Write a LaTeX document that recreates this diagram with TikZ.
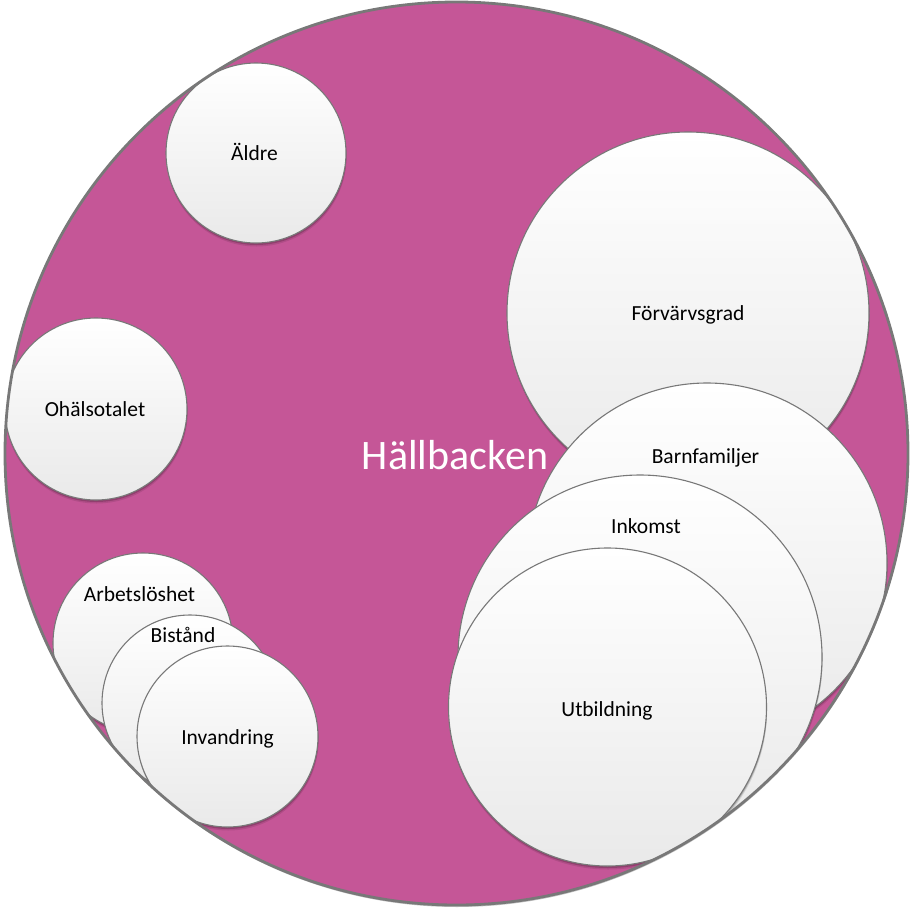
\documentclass[tikz,border=0pt]{standalone}
\usepackage{fontspec}
\setmainfont{Carlito}
\usetikzlibrary{shadows}
\definecolor{hpink}{RGB}{197,86,151}
\definecolor{bgray}{RGB}{120,120,120}
\begin{document}
\begin{tikzpicture}[x=1pt,y=-1pt,
  bubble/.style={circle, draw=bgray, line width=1.1pt, top color=white, bottom color=gray!17,
    inner sep=0pt, outer sep=0pt,
    drop shadow={shadow xshift=0.6pt, shadow yshift=-3.5pt, opacity=0.10, fill=black},
    drop shadow={shadow xshift=0.4pt, shadow yshift=-2pt, opacity=0.18, fill=black}},
  lbl/.style={font=\fontsize{21.5}{24}\selectfont, text=black, anchor=base, inner sep=0pt},
  title/.style={font=\fontsize{42}{48}\selectfont, text=white, anchor=base, inner sep=0pt}]
\useasboundingbox (0,0) rectangle (922,908);
% main circle
\node[circle, fill=hpink, minimum size=903pt, inner sep=0pt, outer sep=0pt,
  drop shadow={shadow xshift=0.5pt, shadow yshift=-2pt, opacity=0.25, fill=black}] (big) at (456.5,453.5) {};
\node[title] (hall) at (455,469) {Hällbacken};
\begin{scope}
  \clip (456.5,453.5) circle (451pt);
  \node[bubble, minimum size=180pt] (aldre) at (256,153) {};
  \node[bubble, minimum size=182pt] (ohals) at (96,409) {};
  \node[bubble, minimum size=362pt] (forv) at (688,313) {};
  \node[bubble, minimum size=360pt] (barn) at (707,563) {};
  \node[bubble, minimum size=364pt] (inko) at (640,657) {};
  \node[bubble, minimum size=318pt] (utbi) at (607.5,707) {};
  \node[bubble, minimum size=180pt] (arbe) at (143,643) {};
  \node[bubble, minimum size=176pt] (bist) at (190,703) {};
  \node[bubble, minimum size=181pt] (inva) at (227.5,736.5) {};
\end{scope}
% rim of main circle
\node[circle, draw=bgray, line width=2.8pt, minimum size=903pt, inner sep=0pt, outer sep=0pt] (rim) at (big) {};
% labels
\node[lbl] (t-aldre) at (254.5,160) {Äldre};
\node[lbl] (t-ohals) at (95,416) {Ohälsotalet};
\node[lbl] (t-forv) at (688,320) {Förvärvsgrad};
\node[lbl] (t-barn) at (705.5,463.5) {Barnfamiljer};
\node[lbl] (t-inko) at (646,533) {Inkomst};
\node[lbl] (t-utbi) at (607,716) {Utbildning};
\node[lbl] (t-arbe) at (139.5,601) {Arbetslöshet};
\node[lbl] (t-bist) at (183,642) {Bistånd};
\node[lbl] (t-inva) at (227.5,744.5) {Invandring};
\end{tikzpicture}
\end{document}
